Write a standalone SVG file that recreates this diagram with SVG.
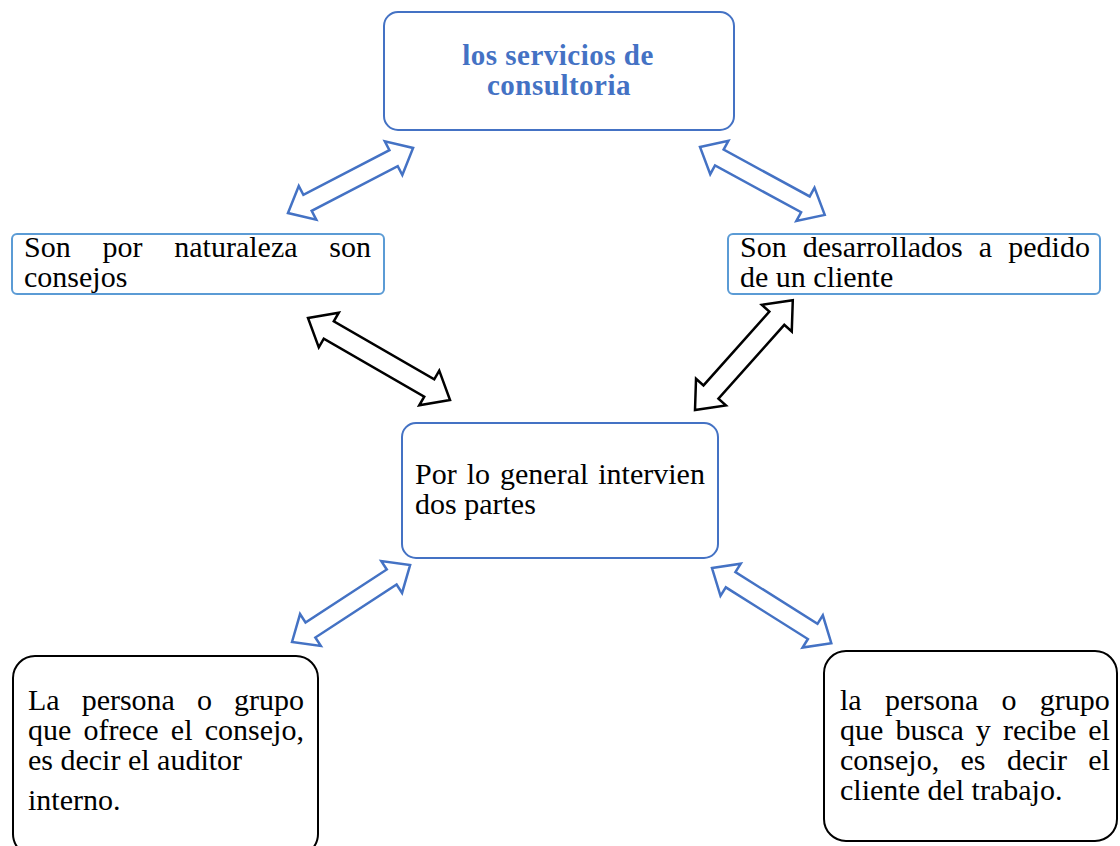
<svg xmlns="http://www.w3.org/2000/svg" width="1120" height="846" viewBox="0 0 1120 846">
<style>
.bg{fill:#ffffff}
.box{fill:#ffffff;stroke-width:2}
.b1{stroke:#4472C4}
.b2{stroke:#5B9BD5}
.bk{stroke:#000000}
.t{font-family:"Liberation Serif","Times New Roman",serif;font-size:30px;fill:#000000}
.title{font-family:"Liberation Serif","Times New Roman",serif;font-size:29px;font-weight:bold;fill:#4472C4;letter-spacing:0.5px;text-anchor:middle}
.ab{fill:#ffffff;stroke:#4472C4;stroke-width:2.5;stroke-linejoin:miter}
.ak{fill:#ffffff;stroke:#000000;stroke-width:2.5;stroke-linejoin:miter}
</style>
<rect class="bg" x="0" y="0" width="1120" height="846"/>
<g id="connectors">
<polygon class="ab" transform="translate(288,213) rotate(-27.47)" points="0,0 22,-19 22,-9 119,-9 119,-19 141,0 119,19 119,9 22,9 22,19"/>
<polygon class="ab" transform="translate(700,147) rotate(28.55)" points="0,0 22,-19 22,-9 120,-9 120,-19 142,0 120,19 120,9 22,9 22,19"/>
<polygon class="ak" transform="translate(308,318) rotate(30)" points="0,0 24,-20 24,-10 140,-10 140,-20 164,0 140,20 140,10 24,10 24,20"/>
<polygon class="ak" transform="translate(695,410) rotate(-48.3)" points="0,0 24,-20 24,-10 123,-10 123,-20 147,0 123,20 123,10 24,10 24,20"/>
<polygon class="ab" transform="translate(292,642) rotate(-33.1)" points="0,0 22,-19 22,-9 119,-9 119,-19 141,0 119,19 119,9 22,9 22,19"/>
<polygon class="ab" transform="translate(712,568) rotate(32.2)" points="0,0 22,-19 22,-9 119,-9 119,-19 141,0 119,19 119,9 22,9 22,19"/>
</g>
<g id="node-title">
<rect class="box b1" x="384" y="12" width="350" height="118" rx="14"/>
<text class="title" x="558" y="65">los servicios de</text>
<text class="title" x="559" y="95">consultoria</text>
</g>
<g id="node-naturaleza">
<rect class="box b2" x="12" y="234" width="372" height="60" rx="5"/>
<text class="t" x="24" y="257" word-spacing="24.3">Son por naturaleza son</text>
<text class="t" x="24" y="287">consejos</text>
</g>
<g id="node-pedido">
<rect class="box b2" x="728" y="234" width="372" height="60" rx="5"/>
<text class="t" x="740" y="257" word-spacing="8.6">Son desarrollados a pedido</text>
<text class="t" x="740" y="287">de un cliente</text>
</g>
<g id="node-partes">
<rect class="box b1" x="402" y="423" width="316" height="135" rx="14"/>
<text class="t" x="415" y="484" word-spacing="2.5">Por lo general intervien</text>
<text class="t" x="415" y="514">dos partes</text>
</g>
<g id="node-auditor">
<rect class="box bk" x="13" y="656" width="305" height="200" rx="22"/>
<text class="t" x="28" y="710" word-spacing="14.5">La persona o grupo</text>
<text class="t" x="28" y="740" word-spacing="4.8">que ofrece el consejo,</text>
<text class="t" x="28" y="770">es decir el auditor</text>
<text class="t" x="28" y="810">interno.</text>
</g>
<g id="node-cliente">
<rect class="box bk" x="824" y="651" width="293" height="190" rx="22"/>
<text class="t" x="840" y="710" word-spacing="15.8">la persona o grupo</text>
<text class="t" x="840" y="740" word-spacing="4.6">que busca y recibe el</text>
<text class="t" x="840" y="770" word-spacing="13.9">consejo, es decir el</text>
<text class="t" x="840" y="800">cliente del trabajo.</text>
</g>
</svg>
